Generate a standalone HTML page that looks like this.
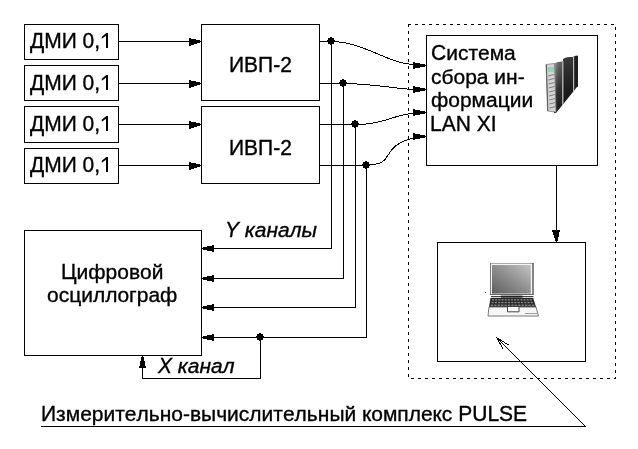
<!DOCTYPE html>
<html><head><meta charset="utf-8"><style>
html,body{margin:0;padding:0;background:#fff;width:638px;height:449px;overflow:hidden}
svg{display:block}
text{font-family:"Liberation Sans",sans-serif;font-size:21px;fill:#000;stroke:#000;stroke-width:0.35px;font-kerning:none}
svg{position:absolute;left:0;top:0}
#main{filter:grayscale(1)}
</style></head><body>
<svg id="main" width="638" height="449" viewBox="0 0 638 449">
<rect width="638" height="449" fill="#fff"/>
<path d="M408.5 24.5H615.5V378.5H408.5Z" fill="none" stroke="#000" stroke-width="1" stroke-dasharray="3 4" stroke-dashoffset="0.5" shape-rendering="crispEdges"/>
<g fill="none" stroke="#000" stroke-width="1" shape-rendering="crispEdges">
<rect x="24.5" y="24.5" width="94" height="35"/>
<rect x="24.5" y="65.5" width="94" height="35"/>
<rect x="24.5" y="106.5" width="94" height="36"/>
<rect x="24.5" y="148.5" width="94" height="35"/>
<rect x="201.5" y="24.5" width="118" height="76"/>
<rect x="201.5" y="106.5" width="118" height="77"/>
<path d="M119 41.5H190"/>
<path d="M119 83.5H190"/>
<path d="M119 124.5H190"/>
<path d="M119 165.5H190"/>
<rect x="24.5" y="230.5" width="177" height="125"/>
<rect x="426.5" y="35.5" width="171" height="130"/>
<rect x="437.5" y="242.5" width="148" height="119"/>
<path d="M320 41.5H332"/>
<path d="M331.5 41V249"/>
<path d="M202 248.5H332"/>
<path d="M320 83.5H344"/>
<path d="M343.5 83V279"/>
<path d="M202 278.5H344"/>
<path d="M320 124.5H356"/>
<path d="M355.5 124V308"/>
<path d="M202 307.5H356"/>
<path d="M320 165.5H367"/>
<path d="M366.5 165V338"/>
<path d="M202 337.5H367"/>
<path d="M260.5 337V379"/>
<path d="M142 378.5H261"/>
<path d="M142.5 356V379"/>
<path d="M556.5 166V242"/>
<path d="M41 426.5H586"/>
</g>
<g fill="none" stroke="#000" stroke-width="1" shape-rendering="crispEdges">
<path d="M331.5 41.5C363.0 41.5 389.1 64.2 413 64.2L419 64.2"/>
<path d="M343.5 83.5C372.7 83.5 400.3 89.4 413 89.4L419 89.4"/>
<path d="M355.5 124.5C385.7 124.5 395.7 113.6 413 113.6L419 113.6"/>
<path d="M366.5 164.5C397.7 165.45 377.1 147.9 413 138L419 138"/>
<path d="M585.5 426.5L496.5 337.5M496.5 337.5L508.5 345M496.5 337.5L503 348.5"/>
</g>
<g fill="#000" stroke="none" shape-rendering="crispEdges">
<polygon points="189,38.0 201,40.7 201,42.3 189,46.0"/>
<polygon points="189,80.0 201,82.7 201,84.3 189,88.0"/>
<polygon points="189,121.0 201,123.7 201,125.3 189,129.0"/>
<polygon points="189,162.0 201,164.7 201,166.3 189,170.0"/>
<polygon points="330,37 332,37 332,38 334,38 334,40 335,40 335,42 334,42 334,44 332,44 332,45 330,45 330,44 328,44 328,42 327,42 327,40 328,40 328,38 330,38"/>
<polygon points="214,245.0 202,247.7 202,249.3 214,252.0"/>
<polygon points="342,79 344,79 344,80 346,80 346,82 347,82 347,84 346,84 346,86 344,86 344,87 342,87 342,86 340,86 340,84 339,84 339,82 340,82 340,80 342,80"/>
<polygon points="214,275.0 202,277.7 202,279.3 214,282.0"/>
<polygon points="354,120 356,120 356,121 358,121 358,123 359,123 359,125 358,125 358,127 356,127 356,128 354,128 354,127 352,127 352,125 351,125 351,123 352,123 352,121 354,121"/>
<polygon points="214,304.0 202,306.7 202,308.3 214,311.0"/>
<polygon points="365,161 367,161 367,162 369,162 369,164 370,164 370,166 369,166 369,168 367,168 367,169 365,169 365,168 363,168 363,166 362,166 362,164 363,164 363,162 365,162"/>
<polygon points="214,334.0 202,336.7 202,338.3 214,341.0"/>
<polygon points="413,62.0 426,64.7 426,66.3 413,69.0"/>
<polygon points="413,86.0 426,88.7 426,90.3 413,93.0"/>
<polygon points="413,109.0 426,111.7 426,113.3 413,116.0"/>
<polygon points="413,133.0 426,135.7 426,137.3 413,140.0"/>
<polygon points="259,333 261,333 261,334 263,334 263,336 264,336 264,338 263,338 263,340 261,340 261,341 259,341 259,340 257,340 257,338 256,338 256,336 257,336 257,334 259,334"/>
<polygon points="139.0,368 146.0,368 143.3,356 141.7,356"/>
<polygon points="552.0,230 560.0,230 557.3,242 555.7,242"/>
</g>
<polygon style="stroke:none" points="108,48 108,33 106.3,33 101.8,36.8 101.8,38.7 106,35.7 106,48"/>
<polygon style="stroke:none" points="108,90 108,75 106.3,75 101.8,78.8 101.8,80.7 106,77.7 106,90"/>
<polygon style="stroke:none" points="108,131 108,116 106.3,116 101.8,119.8 101.8,121.7 106,118.7 106,131"/>
<polygon style="stroke:none" points="108,172 108,157 106.3,157 101.8,160.8 101.8,162.7 106,159.7 106,172"/>
<text transform="translate(30.000 48) scale(1 1.04)">ДМИ 0,</text>
<text transform="translate(30.000 90) scale(1 1.04)">ДМИ 0,</text>
<text transform="translate(30.000 131) scale(1 1.04)">ДМИ 0,</text>
<text transform="translate(30.000 172) scale(1 1.04)">ДМИ 0,</text>
<text transform="translate(229.000 72) scale(1 1.04)">ИВП-2</text>
<text transform="translate(229.000 155) scale(1 1.04)">ИВП-2</text>
<text transform="translate(431.000 60) scale(1 1.04)">С</text>
<text transform="translate(446.166 60) scale(1 0.98)">истема</text>
<text transform="translate(431.000 84) scale(1 0.98)">сбора ин-</text>
<text transform="translate(431.000 107) scale(1 0.98)">формации</text>
<text transform="translate(430.000 131) scale(1 1.04)">LAN XI</text>
<text transform="translate(225.000 237) scale(1 1.04)" font-style="italic">Y </text>
<text transform="translate(244.841 237) scale(1 0.98)" font-style="italic">каналы</text>
<text transform="translate(158.000 373) scale(1 1.04)" font-style="italic">X </text>
<text transform="translate(177.841 373) scale(1 0.98)" font-style="italic">канал</text>
<text transform="translate(61.000 279) scale(1 1.04)">Ц</text>
<text transform="translate(76.535 279) scale(1 0.98)">ифровой</text>
<text transform="translate(47.000 302) scale(1 0.98)">осциллограф</text>
<text transform="translate(41.000 421) scale(1 1.04)">И</text>
<text transform="translate(56.094 421) scale(1 0.98)">змерительно-вычислительный комплекс </text>
<text transform="translate(458.293 421) scale(1 1.04)">PULSE</text>
</svg>
<svg width="638" height="449" viewBox="0 0 638 449">
<g shape-rendering="geometricPrecision">
<defs>
<linearGradient id="m1" x1="0" y1="0" x2="0" y2="1"><stop offset="0" stop-color="#5c5c5c"/><stop offset="0.45" stop-color="#2c2c2c"/><stop offset="1" stop-color="#141414"/></linearGradient>
<linearGradient id="m1h" x1="0" y1="0" x2="1" y2="0"><stop offset="0" stop-color="#fff" stop-opacity="0.45"/><stop offset="0.5" stop-color="#fff" stop-opacity="0.08"/><stop offset="1" stop-color="#fff" stop-opacity="0"/></linearGradient>
<linearGradient id="m2" x1="0" y1="0" x2="0" y2="1"><stop offset="0" stop-color="#3a3a3a"/><stop offset="0.5" stop-color="#1c1c1c"/><stop offset="1" stop-color="#101010"/></linearGradient>

<linearGradient id="scr" x1="0" y1="1" x2="1" y2="0"><stop offset="0" stop-color="#5e5e5e"/><stop offset="0.5" stop-color="#8e8e8e"/><stop offset="1" stop-color="#c4c4c4"/></linearGradient>
<linearGradient id="vf" x1="0" y1="0" x2="0" y2="1"><stop offset="0" stop-color="#fff"/><stop offset="0.6" stop-color="#fff" stop-opacity="0.3"/><stop offset="1" stop-color="#fff" stop-opacity="0"/></linearGradient>
<mask id="vfade" maskUnits="userSpaceOnUse" x="540" y="50" width="50" height="70"><rect x="540" y="60" width="50" height="55" fill="url(#vf)"/></mask>
<clipPath id="sideclip"><polygon points="553,40 580,40 580,86 577,87 556,113 553,113"/></clipPath>
</defs>
<!-- server side modules -->
<g clip-path="url(#sideclip)">
<polygon points="554,63.5 558,62 563,61.5 563,120 554,120" fill="url(#m1)"/>
<polygon points="554,63.5 558,62 563,61.5 563,120 554,120" fill="url(#m1h)" mask="url(#vfade)"/>
<polygon points="563,59 566,57.5 570,57 573,57 573,120 563,120" fill="url(#m2)"/>
<polygon points="573,56.5 577,55.5 578,56 578,120 573,120" fill="#1e1e1e"/>
<rect x="562" y="61" width="1.5" height="60" fill="#a8a8a8"/>
<rect x="573" y="56" width="1.2" height="60" fill="#b8b8b8"/>
</g>
<!-- server front panel -->
<polygon points="546,64.5 554.5,63.5 556,112 547.5,111" fill="#d4d4d4" stroke="#808080" stroke-width="0.8"/>
<path d="M546.4 64.5L547.9 111" stroke="#555" stroke-width="0.9"/>
<rect x="547.6" y="67.5" width="6.2" height="4.5" fill="#98d8a8"/>
<rect x="547.6" y="67.5" width="6.2" height="1" fill="#78c8d8"/>
<g stroke="#808080" stroke-width="1" fill="none">
<path d="M548 76l6 -1.5M548.2 80l6 -1.5M548.4 84l6 -1.5M548.6 88l6 -1.5M548.8 92l6 -1.5M549 96l6 -1.5M549.2 100l6 -1.5M549.4 104l6 -1.5M549.6 108l6 -1.5"/>
</g>
<!-- laptop lid -->
<rect x="490" y="263" width="43.5" height="32" fill="#f6f6f6"/>
<path d="M490 263.5H533.5" stroke="#a8a8a8" stroke-width="1"/>
<path d="M490.5 263V295" stroke="#7a7a7a" stroke-width="1"/>
<path d="M533 263V295" stroke="#3a3a3a" stroke-width="1.2"/>
<path d="M490 294.5H533.5" stroke="#666" stroke-width="1"/>
<rect x="492" y="265" width="38.8" height="28.6" fill="url(#scr)"/>
<path d="M491 296.6H533.5" stroke="#444" stroke-width="1.3"/>
<rect x="501" y="295.6" width="21.5" height="2" fill="#222"/>
<!-- keyboard -->
<polygon points="490.5,298 533.2,298 536,307 489,307" fill="#262626"/>
<g fill="#8c8c8c">
<rect x="492.00" y="299.2" width="2.05" height="1.3"/>
<rect x="495.15" y="299.2" width="2.05" height="1.3"/>
<rect x="498.31" y="299.2" width="2.05" height="1.3"/>
<rect x="501.46" y="299.2" width="2.05" height="1.3"/>
<rect x="504.62" y="299.2" width="2.05" height="1.3"/>
<rect x="507.77" y="299.2" width="2.05" height="1.3"/>
<rect x="510.92" y="299.2" width="2.05" height="1.3"/>
<rect x="514.08" y="299.2" width="2.05" height="1.3"/>
<rect x="517.23" y="299.2" width="2.05" height="1.3"/>
<rect x="520.38" y="299.2" width="2.05" height="1.3"/>
<rect x="523.54" y="299.2" width="2.05" height="1.3"/>
<rect x="526.69" y="299.2" width="2.05" height="1.3"/>
<rect x="529.85" y="299.2" width="2.05" height="1.3"/>
<rect x="491.50" y="301.9" width="2.17" height="1.3"/>
<rect x="494.77" y="301.9" width="2.17" height="1.3"/>
<rect x="498.04" y="301.9" width="2.17" height="1.3"/>
<rect x="501.31" y="301.9" width="2.17" height="1.3"/>
<rect x="504.58" y="301.9" width="2.17" height="1.3"/>
<rect x="507.85" y="301.9" width="2.17" height="1.3"/>
<rect x="511.12" y="301.9" width="2.17" height="1.3"/>
<rect x="514.38" y="301.9" width="2.17" height="1.3"/>
<rect x="517.65" y="301.9" width="2.17" height="1.3"/>
<rect x="520.92" y="301.9" width="2.17" height="1.3"/>
<rect x="524.19" y="301.9" width="2.17" height="1.3"/>
<rect x="527.46" y="301.9" width="2.17" height="1.3"/>
<rect x="530.73" y="301.9" width="2.17" height="1.3"/>
<rect x="490.80" y="304.6" width="2.32" height="1.3"/>
<rect x="494.22" y="304.6" width="2.32" height="1.3"/>
<rect x="497.65" y="304.6" width="2.32" height="1.3"/>
<rect x="501.07" y="304.6" width="2.32" height="1.3"/>
<rect x="504.49" y="304.6" width="2.32" height="1.3"/>
<rect x="507.92" y="304.6" width="2.32" height="1.3"/>
<rect x="511.34" y="304.6" width="2.32" height="1.3"/>
<rect x="514.76" y="304.6" width="2.32" height="1.3"/>
<rect x="518.18" y="304.6" width="2.32" height="1.3"/>
<rect x="521.61" y="304.6" width="2.32" height="1.3"/>
<rect x="525.03" y="304.6" width="2.32" height="1.3"/>
<rect x="528.45" y="304.6" width="2.32" height="1.3"/>
<rect x="531.88" y="304.6" width="2.32" height="1.3"/>
</g>
<!-- palm rest -->
<polygon points="489,307 536,307 538.5,316 488,316" fill="#f6f6f6" stroke="#6a6a6a" stroke-width="0.9"/>
<path d="M507.5 307V311.8H519V307" fill="#fff" stroke="#444" stroke-width="1"/>
<path d="M525 313.5H537" stroke="#888" stroke-width="0.8"/>
<rect x="485" y="292" width="1" height="1" fill="#444"/>
</g>

</svg>
</body></html>
